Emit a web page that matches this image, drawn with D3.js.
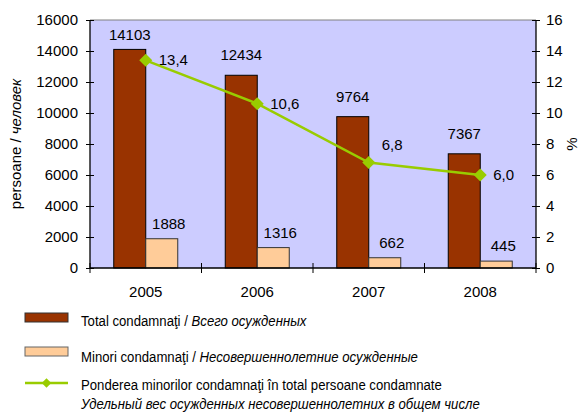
<!DOCTYPE html>
<html>
<head>
<meta charset="utf-8">
<script src="https://cdn.jsdelivr.net/npm/d3@7"></script>
<style>
  body { margin: 0; background: #fff; }
  text { font-family: "Liberation Sans", Arial, sans-serif; fill: #000; }
</style>
</head>
<body>
<svg id="chart" width="582" height="420"></svg>
<script>
// data
const years = ['2005', '2006', '2007', '2008']
const totalConvicted = [14103, 12434, 9764, 7367]
const minorsConvicted = [1888, 1316, 662, 445]
const minorsShare = [13.4, 10.6, 6.8, 6.0]
const leftTicks = [0, 2000, 4000, 6000, 8000, 10000, 12000, 14000, 16000]
const rightTicks = [0, 2, 4, 6, 8, 10, 12, 14, 16]

const svg = d3.select('#chart')
const plot = {left: 90, right: 536, top: 20, bottom: 268}

let x = d3.scaleBand().domain(years).range([plot.left, plot.right])
let yLeft = d3.scaleLinear().domain([0, 16000]).range([plot.bottom, plot.top])
let yRight = d3.scaleLinear().domain([0, 16]).range([plot.bottom, plot.top])
let barW = 32

// plot background
svg.append('rect')
    .attr('x', plot.left)
    .attr('y', plot.top)
    .attr('width', plot.right - plot.left)
    .attr('height', plot.bottom - plot.top)
    .attr('fill', '#ccccff')
svg.append('line')
    .attr('x1', plot.left).attr('x2', plot.right)
    .attr('y1', plot.top).attr('y2', plot.top)
    .attr('stroke', '#808080')
    .attr('stroke-width', 1)

// bars
svg.selectAll('.total').data(years).enter().append('rect')
    .attr('class', 'total')
    .attr('x', d => x(d) + x.bandwidth() / 2 - barW)
    .attr('y', (d, i) => yLeft(totalConvicted[i]))
    .attr('width', barW)
    .attr('height', (d, i) => plot.bottom - yLeft(totalConvicted[i]))
    .attr('fill', '#993300')
    .attr('stroke', '#000')
    .attr('stroke-width', 1)

svg.selectAll('.minor').data(years).enter().append('rect')
    .attr('class', 'minor')
    .attr('x', d => x(d) + x.bandwidth() / 2)
    .attr('y', (d, i) => yLeft(minorsConvicted[i]))
    .attr('width', barW)
    .attr('height', (d, i) => plot.bottom - yLeft(minorsConvicted[i]))
    .attr('fill', '#ffcc99')
    .attr('stroke', '#333')
    .attr('stroke-width', 1)

// bar labels
svg.selectAll('.totalLabel').data(years).enter().append('text')
    .attr('x', d => x(d) + x.bandwidth() / 2 - barW / 2)
    .attr('y', (d, i) => Math.max(yLeft(totalConvicted[i]) - 15, plot.top + 20))
    .attr('text-anchor', 'middle')
    .attr('font-size', '15px')
    .text((d, i) => totalConvicted[i])

svg.selectAll('.minorLabel').data(years).enter().append('text')
    .attr('x', d => x(d) + x.bandwidth() / 2 + barW / 2 + 7)
    .attr('y', (d, i) => yLeft(minorsConvicted[i]) - 10)
    .attr('text-anchor', 'middle')
    .attr('font-size', '15px')
    .text((d, i) => minorsConvicted[i])

// share line
let line = d3.line()
    .x(d => x(d.year) + x.bandwidth() / 2)
    .y(d => yRight(d.v))
let linePts = years.map((y, i) => ({year: y, v: minorsShare[i]}))

svg.append('path')
    .datum(linePts)
    .attr('d', line)
    .attr('fill', 'none')
    .attr('stroke', '#99cc00')
    .attr('stroke-width', 2.5)

let diamond = d3.symbol().type(d3.symbolSquare).size(85)
svg.selectAll('.marker').data(linePts).enter().append('path')
    .attr('d', diamond)
    .attr('transform', d => `translate(${x(d.year) + x.bandwidth() / 2},${yRight(d.v)}) rotate(45)`)
    .attr('fill', '#99cc00')

let fmt = v => v.toFixed(1).replace('.', ',')
svg.selectAll('.shareLabel').data(linePts).enter().append('text')
    .attr('x', d => x(d.year) + x.bandwidth() / 2 + 13)
    .attr('y', (d, i) => yRight(d.v) + 5 - (i === 2 ? 18 : 0))
    .attr('font-size', '15px')
    .text(d => fmt(d.v))

// axes
let leftAxis = svg.append('g')
    .attr('transform', `translate(${plot.left},0)`)
    .call(d3.axisLeft(yLeft).tickValues(leftTicks).tickFormat(d3.format('d')).tickSize(4).tickPadding(8))
leftAxis.selectAll('.tick line').attr('x2', 4).attr('x1', -4)
let rightAxis = svg.append('g')
    .attr('transform', `translate(${plot.right},0)`)
    .call(d3.axisRight(yRight).tickValues(rightTicks).tickFormat(d3.format('d')).tickSize(4).tickPadding(6))
rightAxis.selectAll('.tick line').attr('x1', -4).attr('x2', 4)
let bottomAxis = svg.append('g')
    .attr('transform', `translate(0,${plot.bottom})`)
    .call(d3.axisBottom(x).tickSize(0).tickPadding(18))

let boundaries = years.map(d => x(d)).concat([plot.right])
bottomAxis.selectAll('.sep').data(boundaries).enter().append('line')
    .attr('x1', d => d).attr('x2', d => d)
    .attr('y1', -5).attr('y2', 5)
    .attr('stroke', '#000')

for (let ax of [leftAxis, rightAxis, bottomAxis]) {
    ax.select('.domain').attr('stroke', '#000').attr('stroke-width', 1.3)
    ax.selectAll('text').attr('font-size', '15px').attr('font-family', '"Liberation Sans", Arial, sans-serif')
    ax.selectAll('.tick line').attr('stroke', '#000')
}
bottomAxis.select('.domain').attr('d', `M${plot.left},0H${plot.right}`)
leftAxis.select('.domain').attr('d', `M0,${plot.bottom}V${plot.top}`)
rightAxis.select('.domain').attr('d', `M0,${plot.bottom}V${plot.top}`)

// axis titles
let yTitle = svg.append('text')
    .attr('transform', `translate(21,${(plot.top + plot.bottom) / 2}) rotate(-90)`)
    .attr('text-anchor', 'middle')
    .attr('font-size', '15px')
yTitle.append('tspan').text('persoane / ')
yTitle.append('tspan').attr('font-style', 'italic').text('человек')

svg.append('text')
    .attr('transform', `translate(577,${(plot.top + plot.bottom) / 2}) rotate(-90)`)
    .attr('text-anchor', 'middle')
    .attr('font-size', '15px')
    .text('%')

// legend (the original uses a condensed face, so squeeze the text)
let legend = svg.append('g').attr('class', 'legend')
let lx = 25, tx = 81, squeeze = 0.85

function legendText(y) {
    return legend.append('text')
        .attr('transform', `translate(${tx},${y}) scale(${squeeze},1)`)
        .attr('font-size', '15.5px')
}

legend.append('rect')
    .attr('x', lx).attr('y', 313).attr('width', 43).attr('height', 9)
    .attr('fill', '#993300').attr('stroke', '#333')
let t1 = legendText(326)
t1.append('tspan').text('Total condamnaţi / ')
t1.append('tspan').attr('font-style', 'italic').text('Всего осужденных')

legend.append('rect')
    .attr('x', lx).attr('y', 347).attr('width', 43).attr('height', 9)
    .attr('fill', '#ffcc99').attr('stroke', '#666')
let t2 = legendText(362)
t2.append('tspan').text('Minori condamnaţi / ')
t2.append('tspan').attr('font-style', 'italic').text('Несовершеннолетние осужденные')

legend.append('line')
    .attr('x1', lx).attr('x2', lx + 43).attr('y1', 383).attr('y2', 383)
    .attr('stroke', '#99cc00').attr('stroke-width', 2.5)
legend.append('path')
    .attr('d', d3.symbol().type(d3.symbolSquare).size(45))
    .attr('transform', `translate(${lx + 21.5},383) rotate(45)`)
    .attr('fill', '#99cc00')
legendText(390).text('Ponderea minorilor condamnaţi în total persoane condamnate')
legendText(409).attr('font-style', 'italic')
    .text('Удельный вес осужденных несовершеннолетних в общем числе')
</script>
</body>
</html>
